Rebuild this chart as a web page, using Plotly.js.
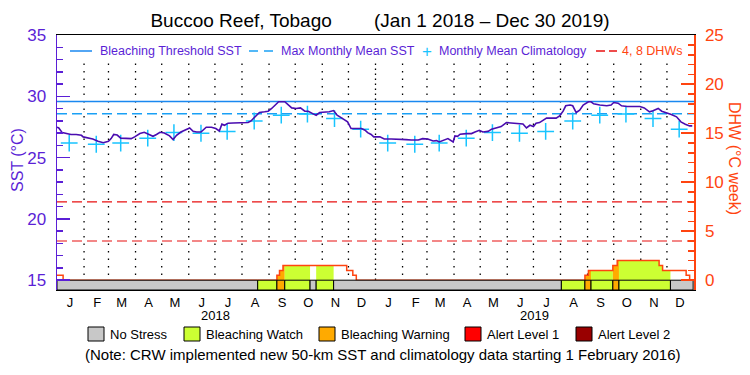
<!DOCTYPE html>
<html><head><meta charset="utf-8">
<script src="https://cdn.plot.ly/plotly-3.0.1.min.js"></script>
<style>html,body{margin:0;padding:0;background:#fff}#chart{width:750px;height:375px}</style>
</head><body><div id="chart"></div>
<script>
// ---------------- data ----------------
const sstDates = ['2018-01-01','2018-01-03','2018-01-07','2018-01-12','2018-01-17','2018-01-23','2018-01-29','2018-01-31','2018-02-05','2018-02-11','2018-02-17','2018-02-23','2018-03-01','2018-03-04','2018-03-07','2018-03-11','2018-03-15','2018-03-21','2018-03-27','2018-03-31','2018-04-06','2018-04-11','2018-04-17','2018-04-21','2018-04-25','2018-04-29','2018-05-04','2018-05-10','2018-05-14','2018-05-18','2018-05-23','2018-05-29','2018-06-02','2018-06-06','2018-06-10','2018-06-15','2018-06-21','2018-06-27','2018-07-02','2018-07-06','2018-07-09','2018-07-12','2018-07-16','2018-07-22','2018-07-31','2018-08-08','2018-08-11','2018-08-15','2018-08-21','2018-08-27','2018-08-31','2018-09-04','2018-09-07','2018-09-12','2018-09-19','2018-09-23','2018-09-27','2018-10-02','2018-10-07','2018-10-12','2018-10-16','2018-10-21','2018-10-25','2018-10-29','2018-11-04','2018-11-09','2018-11-14','2018-11-18','2018-11-23','2018-11-27','2018-11-30','2018-12-04','2018-12-10','2018-12-16','2018-12-20','2018-12-23','2018-12-27','2018-12-30','2019-01-06','2019-01-11','2019-01-19','2019-01-29','2019-02-05','2019-02-11','2019-02-19','2019-02-24','2019-03-02','2019-03-08','2019-03-12','2019-03-15','2019-03-21','2019-03-25','2019-03-31','2019-04-02','2019-04-05','2019-04-08','2019-04-15','2019-04-21','2019-04-25','2019-04-30','2019-05-04','2019-05-10','2019-05-14','2019-05-19','2019-05-25','2019-05-31','2019-06-06','2019-06-14','2019-06-19','2019-06-23','2019-06-27','2019-07-01','2019-07-04','2019-07-08','2019-07-12','2019-07-16','2019-07-27','2019-07-31','2019-08-04','2019-08-07','2019-08-12','2019-08-15','2019-08-19','2019-08-23','2019-08-27','2019-09-02','2019-09-05','2019-09-08','2019-09-15','2019-09-23','2019-09-28','2019-10-01','2019-10-06','2019-10-10','2019-10-16','2019-10-23','2019-10-31','2019-11-05','2019-11-11','2019-11-15','2019-11-21','2019-11-25','2019-11-30','2019-12-06','2019-12-12','2019-12-17','2019-12-22','2019-12-27','2019-12-30'];
const sstValues = [27.5,27.43,27.05,26.97,26.9,26.9,26.83,26.7,26.64,26.53,26.34,26.23,26.34,26.56,26.9,26.85,26.6,26.56,26.56,26.7,26.97,27.08,26.9,26.75,26.9,27.08,27.02,26.78,26.48,26.83,27.1,27.33,27.43,27.16,27.1,27.1,27.49,27.49,27.38,27.18,27.74,27.65,27.82,27.84,27.87,27.87,27.98,28.25,28.69,28.75,28.8,29.02,29.24,29.57,29.57,29.34,29.07,29.02,29.07,28.8,28.8,28.6,28.47,28.69,28.69,28.75,28.85,28.47,28.25,28.07,27.93,27.38,27.38,27.38,27.25,27.05,26.9,26.7,26.7,26.53,26.53,26.53,26.48,26.45,26.45,26.56,26.53,26.37,26.4,26.29,26.48,26.56,26.29,26.78,26.75,26.92,26.97,26.97,27.1,27.24,27.1,27.15,27.33,27.43,27.54,27.87,27.82,27.76,27.76,27.43,27.65,27.54,27.82,27.87,28.07,28.23,28.23,28.42,28.8,29.24,29.3,29.24,28.69,28.88,29.3,29.57,29.57,29.4,29.3,29.24,29.3,29.51,29.45,29.24,29.18,29.18,29.18,29.07,28.75,28.83,29.02,28.8,28.69,28.52,28.34,27.93,27.74,27.6,27.6];

const climDates = ['2018-01-15','2018-02-15','2018-03-15','2018-04-15','2018-05-15','2018-06-15','2018-07-15','2018-08-15','2018-09-15','2018-10-15','2018-11-15','2018-12-15','2019-01-15','2019-02-15','2019-03-15','2019-04-15','2019-05-15','2019-06-15','2019-07-15','2019-08-15','2019-09-15','2019-10-15','2019-11-15','2019-12-15'];
const climValues = [26.2,26.1,26.2,26.6,27.05,27.0,27.15,28.0,28.47,28.56,28.2,27.33,26.2,26.1,26.2,26.6,27.05,27.0,27.15,28.0,28.47,28.56,28.2,27.33];

const bleachingThreshold = 29.6;
const maxMonthlyMean = 28.6;
const dhwLevels = [4, 8];

const dhwDates = ['2018-01-01','2018-01-08','2018-09-10','2018-09-13','2018-09-17','2018-11-29','2018-12-06','2018-12-10','2019-08-29','2019-09-02','2019-09-30','2019-10-05','2019-11-22','2019-11-26','2019-12-23','2019-12-27','2019-12-31'];
const dhwValues = [0.5,0,0.5,1.0,1.5,1.0,0.5,0,0.5,1.0,1.5,2.0,1.5,1.0,0.5,0,0];

const stressStart = ['2018-01-01','2018-08-19','2018-09-10','2018-09-19','2018-10-18','2018-10-25','2018-11-14','2019-08-02','2019-08-29','2019-09-05','2019-09-30','2019-10-07','2019-12-05'];
const stressEnd   = ['2018-08-19','2018-09-10','2018-09-19','2018-10-18','2018-10-25','2018-11-14','2019-08-02','2019-08-29','2019-09-05','2019-09-30','2019-10-07','2019-12-05','2019-12-31'];
const stressLevel = [0,1,2,1,0,1,0,1,2,1,2,1,0];

const stressNames  = ['No Stress','Bleaching Watch','Bleaching Warning','Alert Level 1','Alert Level 2'];
const stressColors = ['#c8c8c8','#ccff33','#ffaa00','#ff0000','#990000'];
const monthLetters = ['J','F','M','A','M','J','J','A','S','O','N','D'];
const years = ['2018','2019'];

// ---------------- styles ----------------
const FONT = 'Liberation Sans, Arial, sans-serif';
const PURPLE = '#5b1fd6';
const SSTLINE = '#4a0cb0';
const ORANGE = '#ff4410';
const xStart = '2018-01-01', xEnd = '2020-01-01';
const y1Range = [14.2, 35.02];
const y2Range = [(y1Range[0]-15)*1.25, (y1Range[1]-15)*1.25];

const ms = d => Date.parse(d + 'T00:00:00Z');
const toStr = t => new Date(t).toISOString().slice(0,19).replace('T',' ');
function dhwAt(t){ let v = 0; for (let i=0;i<dhwDates.length;i++){ if (ms(dhwDates[i]) <= t) v = dhwValues[i]; } return v; }

const traces = [];

// DHW fills coloured by stress level
stressStart.forEach((s,i)=>{
  const lvl = stressLevel[i];
  if (lvl === 0) return;
  const a = ms(s), b = ms(stressEnd[i]);
  const pts = [a];
  dhwDates.forEach(d=>{ const t = ms(d); if (t>a && t<b) pts.push(t); });
  pts.push(b);
  const ys = pts.map((t,k)=> dhwAt(k===pts.length-1 ? b-1 : t));
  traces.push({x: pts.map(toStr), y: ys, yaxis:'y2', type:'scatter', mode:'lines',
    line:{width:0, shape:'hv'}, fill:'tozeroy', fillcolor: stressColors[lvl], hoverinfo:'skip', showlegend:false});
});

// DHW outline
traces.push({x: dhwDates, y: dhwValues, yaxis:'y2', type:'scatter', mode:'lines',
  line:{color:ORANGE, width:1.5, shape:'hv'}, showlegend:false});

// DHW 4/8 lines
dhwLevels.forEach(v=>{
  traces.push({x:[xStart, xEnd], y:[v, v], yaxis:'y2', type:'scatter', mode:'lines',
    line:{color:'#e81010', width:1.2, dash:'10px,5px'}, showlegend:false});
});

// Threshold & MMM
traces.push({x:[xStart, xEnd], y:[bleachingThreshold, bleachingThreshold], type:'scatter', mode:'lines',
  line:{color:'#1a88f0', width:1.5}, showlegend:false});
traces.push({x:[xStart, xEnd], y:[maxMonthlyMean, maxMonthlyMean], type:'scatter', mode:'lines',
  line:{color:'#1aa0f5', width:1.5, dash:'10px,5px'}, showlegend:false});

// Climatology
traces.push({x: climDates, y: climValues, type:'scatter', mode:'markers',
  marker:{symbol:'cross-thin', size:12, line:{color:'#18c4ff', width:1.5}}, showlegend:false});

// SST
traces.push({x: sstDates, y: sstValues, type:'scatter', mode:'lines',
  line:{color:SSTLINE, width:1.6}, showlegend:false});

// Stress bar
const barX=[], barW=[], barC=[], barY=[];
stressStart.forEach((s,i)=>{ const a=ms(s), b=ms(stressEnd[i]); barX.push(toStr((a+b)/2)); barW.push(b-a); barC.push(stressColors[stressLevel[i]]); barY.push(-y2Range[0]); });
traces.push({x: barX, y: barY, base: y2Range[0], width: barW, type:'bar', yaxis:'y3',
  marker:{color: barC, line:{color:'#000', width:1}}, showlegend:false, hoverinfo:'skip'});

// ---------------- ticks ----------------
const monthTicks = [], monthText = [], monthStarts = [];
years.forEach(y=>{ monthLetters.forEach((m,i)=>{
  const mm = String(i+1).padStart(2,'0');
  monthTicks.push(`${y}-${mm}-16`); monthText.push(m); monthStarts.push(`${y}-${mm}-01`);
}); });

// ---------------- annotations / legend ----------------
const L = 57, R = 694, T = 35, B = 290;
const px = x => (x - L)/(R - L);
const py = y => (B - y)/(B - T);
const ann = [], shp = [];
function txt(x, y, text, font, opts){ ann.push(Object.assign({x:px(x), xref:'paper', y:py(y), yref:'paper', text, showarrow:false,
  xanchor:'center', yanchor:'middle', font}, opts||{})); }

// dotted month boundaries (below the top legend row)
monthStarts.slice(1).forEach(d=>{
  const yearLine = d.endsWith('-01-01');
  shp.push({type:'line', xref:'x', yref:'paper', x0:d, x1:d, y0:0, y1:py(61), layer:'below',
    line:{color:'#000', width: 1.3, dash: yearLine ? '1.5px,3.5px' : '1.5px,6px'}});
});

years.forEach(y=>{ ann.push({x:`${y}-07-02`, xref:'x', y:py(315), yref:'paper', text:y, showarrow:false,
  xanchor:'center', yanchor:'middle', font:{family:FONT, size:13, color:'#000'}}); });

// axis titles
txt(17, 160, 'SST (°C)', {family:FONT, size:16, color:PURPLE}, {textangle:-90});
txt(735, 158, 'DHW (°C week)', {family:FONT, size:16, color:ORANGE}, {textangle:90});

// top legend
const topY = 51;
const legFont = {family:FONT, size:12.5, color:PURPLE};
shp.push({type:'line', xref:'paper', yref:'paper', x0:px(70), x1:px(92), y0:py(topY), y1:py(topY), line:{color:'#1a88f0', width:1.5}});
txt(98, topY, 'Bleaching Threshold SST', legFont, {xanchor:'left'});
[[249,258],[264,273]].forEach(([a,b])=> shp.push({type:'line', xref:'paper', yref:'paper', x0:px(a), x1:px(b), y0:py(topY), y1:py(topY), line:{color:'#1aa0f5', width:1.5}}));
txt(279, topY, 'Max Monthly Mean SST', legFont, {xanchor:'left'});
txt(427, topY, '+', {family:FONT, size:17, color:'#18c4ff'});
txt(437, topY, 'Monthly Mean Climatology', legFont, {xanchor:'left'});
[[596,605],[609,617]].forEach(([a,b])=> shp.push({type:'line', xref:'paper', yref:'paper', x0:px(a), x1:px(b), y0:py(topY), y1:py(topY), line:{color:'#e81010', width:1.5}}));
txt(620, topY, '4, 8 DHWs', {family:FONT, size:12.5, color:ORANGE}, {xanchor:'left'});

// bottom legend
const boxX = [88, 184, 319, 465, 576];
const botY = 334;
stressNames.forEach((n,i)=>{
  shp.push({type:'rect', xref:'paper', yref:'paper', x0:px(boxX[i]), x1:px(boxX[i]+16), y0:py(botY+7), y1:py(botY-7),
    fillcolor:stressColors[i], line:{color:'#000', width:1}});
  txt(boxX[i]+20, botY, n, {family:FONT, size:13, color:'#000'}, {xanchor:'left'});
});
txt(383, 354, '(Note: CRW implemented new 50-km SST and climatology data starting 1 February 2016)', {family:FONT, size:15, color:'#000'});

const layout = {
  width:750, height:375,
  margin:{l:L, r:750-R, t:T, b:375-B},
  paper_bgcolor:'#fff', plot_bgcolor:'#fff',
  title:{text:'Buccoo Reef, Tobago\u00a0\u00a0\u00a0\u00a0\u00a0\u00a0\u00a0\u00a0(Jan 1 2018 \u2013 Dec 30 2019)', x:380/750, xref:'container', xanchor:'center',
    y:1-20/375, yref:'container', yanchor:'middle', font:{family:FONT, size:19, color:'#000'}},
  showlegend:false,
  xaxis:{type:'date', range:[xStart, xEnd], tickmode:'array', tickvals:monthTicks, ticktext:monthText, ticks:'',
    tickfont:{family:FONT, size:13, color:'#000'}, showgrid:false, zeroline:false,
    showline:true, mirror:true, linecolor:'#000', linewidth:1},
  yaxis:{range:y1Range, tickvals:[15,20,25,30,35], ticks:'inside', ticklen:13, tickwidth:1.5, tickcolor:PURPLE,
    tickfont:{family:FONT, size:17, color:PURPLE}, showgrid:false, zeroline:false, showline:true, linecolor:PURPLE, linewidth:1.5,
    ticklabelstandoff:6,
    minor:{dtick:1, tick0:15, ticks:'inside', ticklen:6, tickcolor:PURPLE, tickwidth:1.5, showgrid:false}},
  yaxis2:{range:y2Range, overlaying:'y', side:'right', tickvals:[0,5,10,15,20,25], ticks:'inside', ticklen:13, tickwidth:1.5, tickcolor:ORANGE,
    tickfont:{family:FONT, size:17, color:ORANGE}, showgrid:false, zeroline:false, showline:true, linecolor:ORANGE, linewidth:1.5,
    ticklabelstandoff:6,
    minor:{dtick:1, tick0:0, ticks:'inside', ticklen:6, tickcolor:ORANGE, tickwidth:1.5, showgrid:false}},
  yaxis3:{range:y2Range, overlaying:'y', visible:false},
  annotations: ann, shapes: shp
};

Plotly.newPlot('chart', traces, layout, {staticPlot:true, displayModeBar:false});
</script>
</body></html>
